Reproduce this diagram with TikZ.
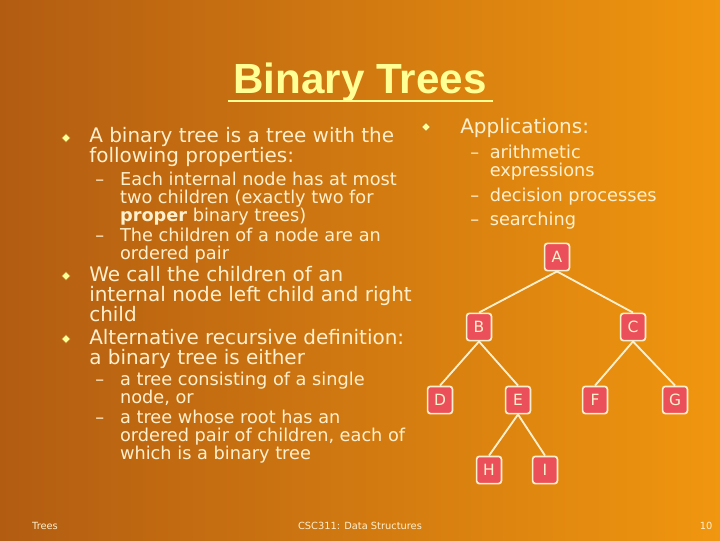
\documentclass[tikz,border=0pt]{standalone}
\usepackage{fontspec}
\setmainfont{DejaVu Sans}
\newfontfamily\titlefont{Liberation Sans}
\definecolor{bgdark}{RGB}{178,92,18}
\definecolor{bglight}{RGB}{240,150,15}
\definecolor{cream}{RGB}{255,240,205}
\definecolor{titleyel}{RGB}{255,255,150}
\definecolor{boxred}{RGB}{235,80,90}
\tikzset{
  treenode/.style={draw=cream,line width=1.2pt,fill=boxred,rounded corners=2pt,
    minimum width=0.62cm,minimum height=0.68cm,inner sep=0pt,text=cream,font=\fontsize{11}{11}\selectfont},
  treeedge/.style={draw=cream,line width=1.3pt},
  bodytext/.style={anchor=north west,align=left,text=cream,inner sep=0pt,
    font=\fontsize{14.2}{14.2}\selectfont},
  subtext/.style={anchor=north west,align=left,text=cream,inner sep=0pt,
    font=\fontsize{12.6}{12.8}\selectfont},
  bullet/.style={fill=titleyel,draw=bgdark,line width=0.3pt,diamond,inner sep=1.6pt},
  foot/.style={text=cream,font=\fontsize{7}{8}\selectfont,inner sep=0pt}
}
\usetikzlibrary{shapes.geometric}
\begin{document}
\begin{tikzpicture}[x=0.025cm,y=-0.025cm]
  \shade[left color=bgdark,right color=bglight] (0,0) rectangle (720,540);
  \useasboundingbox (0,0) rectangle (720,540);
  % title
  \node (title) [text=titleyel,font=\titlefont\bfseries\fontsize{30}{32}\selectfont] at (360,83) {Binary Trees};
  \draw[titleyel,line width=1.8pt] (228,101) -- (493,101);
  % left column
  \node[bullet] (b1) at (66,138) {};
  \node[bodytext] (t1) at (89,127) {A binary tree is a tree with the\\following properties:};
  \node[subtext] (s1) at (95,172) {–\hspace{0.9em}\parbox[t]{8cm}{Each internal node has at most\\two children (exactly two for\\\textbf{proper} binary trees)}};
  \node[subtext] (s2) at (95,228) {–\hspace{0.9em}\parbox[t]{8cm}{The children of a node are an\\ordered pair}};
  \node[bullet] (b2) at (66,276) {};
  \node[bodytext] (t2) at (89,266) {We call the children of an\\internal node left child and right\\child};
  \node[bullet] (b3) at (66,339) {};
  \node[bodytext] (t3) at (89,329) {Alternative recursive definition:\\a binary tree is either};
  \node[subtext] (s3) at (95,372) {–\hspace{0.9em}\parbox[t]{8cm}{a tree consisting of a single\\node, or}};
  \node[subtext] (s4) at (95,410) {–\hspace{0.9em}\parbox[t]{8cm}{a tree whose root has an\\ordered pair of children, each of\\which is a binary tree}};
  % right column
  \node[bullet] (b4) at (426,127) {};
  \node[bodytext] (t4) at (460,118) {Applications:};
  \node[subtext] (s5) at (470,145) {–\hspace{0.6em}\parbox[t]{4cm}{arithmetic\\expressions}};
  \node[subtext] (s6) at (470,188) {–\hspace{0.6em}decision processes};
  \node[subtext] (s7) at (470,212) {–\hspace{0.6em}searching};
  % tree
  \node[treenode] (A) at (557,257) {A};
  \node[treenode] (B) at (479,327) {B};
  \node[treenode] (C) at (633,327) {C};
  \node[treenode] (D) at (440,400) {D};
  \node[treenode] (E) at (518,400) {E};
  \node[treenode] (F) at (595,400) {F};
  \node[treenode] (G) at (675,400) {G};
  \node[treenode] (H) at (489,470) {H};
  \node[treenode] (I) at (545,470) {I};
  \foreach \p/\c in {A/B,A/C,B/D,B/E,C/F,C/G,E/H,E/I}
    \draw[treeedge] (\p.south) -- (\c.north);
  % footer
  \node[foot] (f1) at (45,526) {Trees};
  \node[foot] (f2) at (360,526) {CSC311: Data Structures};
  \node[foot] (f3) at (706,526) {10};
\end{tikzpicture}
\end{document}
